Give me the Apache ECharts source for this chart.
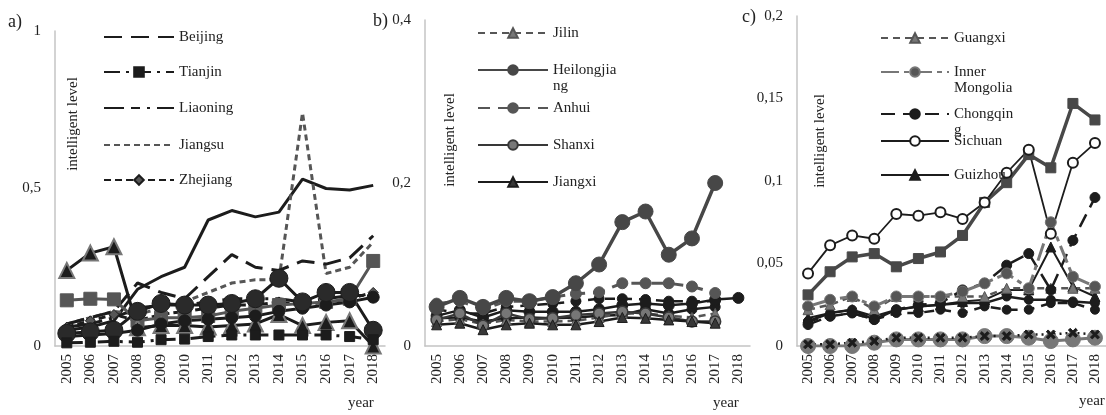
<!DOCTYPE html>
<html><head><meta charset="utf-8">
<script src="https://cdn.jsdelivr.net/npm/echarts@6/dist/echarts.min.js"></script>
<style>html,body{margin:0;padding:0;background:#fff}#c{width:1106px;height:415px}</style>
</head><body><div id="c"></div>
<script>
const years = ['2005','2006','2007','2008','2009','2010','2011','2012','2013','2014','2015','2016','2017','2018'];

// panel a) eastern provinces
const beijing   = [0.07,0.09,0.11,0.20,0.17,0.15,0.22,0.29,0.25,0.24,0.27,0.26,0.28,0.35];
const tianjin   = [0.010,0.012,0.015,0.012,0.020,0.022,0.030,0.035,0.035,0.035,0.035,0.035,0.030,0.020];
const liaoning  = [0.06,0.07,0.09,0.12,0.13,0.13,0.14,0.15,0.15,0.15,0.14,0.15,0.16,0.16];
const jiangsu   = [0.07,0.09,0.11,0.10,0.12,0.14,0.17,0.20,0.21,0.21,0.74,0.23,0.25,0.33];
const zhejiang  = [0.06,0.08,0.10,0.08,0.10,0.11,0.12,0.13,0.13,0.14,0.13,0.14,0.15,0.17];
const shanghai  = [0.05,0.06,0.08,0.18,0.22,0.25,0.40,0.43,0.41,0.425,0.53,0.50,0.495,0.51];
const hebei     = [0.24,0.295,0.315,0.058,0.065,0.065,0.06,0.065,0.07,0.10,0.065,0.075,0.08,0.0];
const guangdong = [0.145,0.15,0.148,0.08,0.09,0.09,0.095,0.11,0.12,0.13,0.135,0.14,0.15,0.27];
const shandong  = [0.04,0.045,0.05,0.11,0.135,0.13,0.13,0.135,0.15,0.215,0.14,0.17,0.17,0.05];
const fujian    = [0.03,0.035,0.04,0.05,0.07,0.08,0.085,0.09,0.095,0.11,0.12,0.13,0.14,0.155];

// panel b) central provinces
const jilin        = [0.030,0.033,0.027,0.032,0.030,0.030,0.031,0.035,0.040,0.040,0.037,0.035,0.040,null];
const heilongjiang = [0.048,0.059,0.048,0.059,0.055,0.060,0.077,0.100,0.152,0.165,0.112,0.132,0.200,null];
const anhui        = [0.052,0.055,0.045,0.055,0.055,0.060,0.064,0.066,0.077,0.077,0.077,0.073,0.065,null];
const shanxi       = [0.032,0.040,0.025,0.040,0.033,0.034,0.038,0.040,0.042,0.040,0.035,0.030,0.030,null];
const jiangxi      = [0.026,0.028,0.020,0.026,0.028,0.026,0.026,0.030,0.035,0.034,0.032,0.030,0.028,null];
const henan        = [0.045,0.040,0.040,0.048,0.050,0.052,0.055,0.058,0.058,0.057,0.055,0.055,0.055,null];
const hubei        = [0.037,0.044,0.035,0.044,0.042,0.042,0.042,0.045,0.050,0.052,0.050,0.052,0.057,0.059];
const hunan        = [0.034,0.035,0.030,0.034,0.035,0.034,0.035,0.037,0.038,0.045,0.040,0.045,0.048,null];

// panel c) western provinces
const guangxi   = [0.022,0.025,0.030,0.022,0.030,0.030,0.030,0.030,0.030,0.035,0.035,0.035,0.035,0.035];
const innerMong = [0.024,0.028,0.030,0.024,0.030,0.030,0.030,0.033,0.038,0.044,0.035,0.075,0.042,0.036];
const chongqing = [0.013,0.018,0.020,0.016,0.022,0.025,0.026,0.034,0.038,0.049,0.056,0.034,0.064,0.090];
const sichuan   = [0.044,0.061,0.067,0.065,0.080,0.079,0.081,0.077,0.087,0.105,0.119,0.068,0.111,0.123];
const guizhou   = [0.017,0.020,0.022,0.018,0.022,0.024,0.025,0.027,0.028,0.034,0.034,0.060,0.036,0.030];
const shaanxi   = [0.031,0.045,0.054,0.056,0.048,0.053,0.057,0.067,0.087,0.099,0.116,0.108,0.147,0.137];
const yunnan    = [0.015,0.018,0.020,0.016,0.020,0.020,0.022,0.020,0.024,0.022,0.022,0.026,0.026,0.022];
const gansu     = [0.015,0.020,0.022,0.016,0.022,0.024,0.025,0.026,0.026,0.030,0.028,0.028,0.027,0.026];
const tibet     = [0.000,0.000,0.000,0.002,0.004,0.004,0.004,0.004,0.006,0.006,0.005,0.003,0.004,0.005];
const qinghai   = [0.001,0.001,0.002,0.003,0.005,0.005,0.005,0.005,0.006,0.006,0.007,0.007,0.008,0.007];

const FONT = '"Liberation Serif","DejaVu Serif",serif';
const K = '#1c1c1c', D = '#383838', G = '#565656', L = '#777777';
const XSYM = 'path://M2,0L5,3L8,0L10,2L7,5L10,8L8,10L5,7L2,10L0,8L3,5L0,2Z';

function S(name, data, g, o) {
  return {
    name, type: 'line', data, xAxisIndex: g, yAxisIndex: g,
    symbol: o.symbol || 'none', symbolSize: o.size || 8, showSymbol: !!o.symbol,
    lineStyle: {color: o.color, width: o.width || 2.5, type: o.type || 'solid'},
    itemStyle: {color: o.fill || o.color, borderColor: o.border || o.color, borderWidth: o.bw || 1},
    animation: false, silent: true, z: o.z || 2
  };
}
function xa(g) {
  return {type: 'category', gridIndex: g, data: years, boundaryGap: true,
    axisLine: {lineStyle: {color: '#c4c4c4', width: 1.5}}, axisTick: {show: false},
    axisLabel: {rotate: 90, interval: 0, fontFamily: FONT, fontSize: 15, color: '#222', margin: 8}};
}
function ya(g, max, interval) {
  return {type: 'value', gridIndex: g, min: 0, max, interval,
    axisLine: {show: true, lineStyle: {color: '#c4c4c4', width: 1.5}}, axisTick: {show: false},
    splitLine: {show: false},
    axisLabel: {fontFamily: FONT, fontSize: 15, color: '#222', margin: 14,
      formatter: v => String(+v.toFixed(4)).replace('.', ',')}};
}
const NOSYM = {opacity: 0, color: 'rgba(0,0,0,0)', borderColor: 'rgba(0,0,0,0)', borderWidth: 0};
function lg(name, left, yc, w, label, hideSym) {
  const multi = !!label;
  const item = hideSym ? {name, itemStyle: NOSYM} : {name};
  return {data: [item], left, top: yc - (multi ? 24 : 8), orient: 'vertical', itemWidth: w, itemHeight: 12,
    padding: 0, selectedMode: false,
    textStyle: {fontFamily: FONT, fontSize: 15, color: '#222', lineHeight: 16},
    formatter: multi ? (() => label) : (n => n)};
}
function T(text, x, y, o) {
  return Object.assign({type: 'text', x, y, silent: true,
    style: {text, fontFamily: FONT, fontSize: (o && o.size) || 15, fill: '#222',
      align: (o && o.align) || 'left', verticalAlign: 'middle'}}, o && o.rot ? {rotation: o.rot} : {});
}

const series = [
  // a)
  S('Shanghai', shanghai, 0, {color: K, width: 3}),
  S('Jiangsu', jiangsu, 0, {color: G, width: 3, type: [6, 4]}),
  S('Beijing', beijing, 0, {color: K, width: 3, type: [18, 9]}),
  S('Liaoning', liaoning, 0, {color: K, width: 3, type: [20, 7, 9, 7, 3, 7]}),
  S('Zhejiang', zhejiang, 0, {color: K, width: 3, type: [7, 4], symbol: 'diamond', size: 10, fill: G}),
  S('Guangdong', guangdong, 0, {color: G, width: 3, symbol: 'rect', size: 13}),
  S('Hebei', hebei, 0, {color: K, width: 3, symbol: 'triangle', size: 15, fill: K, border: L, bw: 2}),
  S('Fujian', fujian, 0, {color: K, width: 3, symbol: 'circle', size: 12}),
  S('Shandong', shandong, 0, {color: K, width: 3, symbol: 'circle', size: 18, fill: '#2a2a2a'}),
  S('Tianjin', tianjin, 0, {color: K, width: 3, type: [16, 6, 3, 6], symbol: 'rect', size: 10}),
  // b)
  S('Hunan', hunan, 1, {color: K, width: 2.5, symbol: 'circle', size: 10}),
  S('Henan', henan, 1, {color: K, width: 2.5, type: [10, 7], symbol: 'circle', size: 10}),
  S('Hubei', hubei, 1, {color: K, width: 2.5, symbol: 'circle', size: 11}),
  S('Anhui', anhui, 1, {color: G, width: 3, type: [12, 8], symbol: 'circle', size: 11, fill: G}),
  S('Jilin', jilin, 1, {color: G, width: 2.5, type: [7, 5], symbol: 'triangle', size: 10, fill: L}),
  S('Shanxi', shanxi, 1, {color: D, width: 2.5, symbol: 'circle', size: 11, fill: L, border: D, bw: 1.5}),
  S('Jiangxi', jiangxi, 1, {color: K, width: 2.5, symbol: 'triangle', size: 10, fill: D}),
  S('Heilongjiang', heilongjiang, 1, {color: '#474747', width: 3.5, symbol: 'circle', size: 15, fill: '#474747'}),
  // c)
  S('Gansu', gansu, 2, {color: K, width: 2.5, symbol: 'circle', size: 9}),
  S('Yunnan', yunnan, 2, {color: K, width: 2.5, type: [10, 7], symbol: 'circle', size: 9}),
  S('Guizhou', guizhou, 2, {color: K, width: 2, symbol: 'triangle', size: 10}),
  S('Guangxi', guangxi, 2, {color: G, width: 2.5, type: [7, 5], symbol: 'triangle', size: 10, fill: L}),
  S('Chongqing', chongqing, 2, {color: K, width: 2.5, type: [14, 8], symbol: 'circle', size: 10}),
  S('Inner Mongolia', innerMong, 2, {color: L, width: 3, type: [18, 5, 5, 5], symbol: 'circle', size: 11, fill: G}),
  S('Shaanxi', shaanxi, 2, {color: '#484848', width: 3.5, symbol: 'rect', size: 10}),
  S('Sichuan', sichuan, 2, {color: K, width: 1.8, symbol: 'emptyCircle', size: 10, bw: 1.5}),
  S('Tibet', tibet, 2, {color: L, width: 3, symbol: 'circle', size: 15, fill: L}),
  S('Qinghai', qinghai, 2, {color: K, width: 2.5, type: [2, 4], symbol: XSYM, size: 9})
];

const chart = echarts.init(document.getElementById('c'));
chart.setOption({
  animation: false,
  backgroundColor: '#fff',
  grid: [
    {left: 55, top: 31, width: 330, height: 315},
    {left: 425, top: 20, width: 325, height: 326},
    {left: 797, top: 16, width: 318, height: 330}
  ],
  xAxis: [xa(0), xa(1), xa(2)],
  yAxis: [ya(0, 1, 0.5), ya(1, 0.4, 0.2), ya(2, 0.2, 0.05)],
  legend: [
    lg('Beijing', 103, 37, 70, null, true), lg('Tianjin', 103, 72, 70), lg('Liaoning', 103, 108, 70, null, true),
    lg('Jiangsu', 103, 145, 70, null, true), lg('Zhejiang', 103, 180, 70),
    lg('Jilin', 477, 33, 70), lg('Heilongjiang', 477, 70, 70, ' \nHeilongjia\nng'), lg('Anhui', 477, 108, 70),
    lg('Shanxi', 477, 145, 70), lg('Jiangxi', 477, 182, 70),
    lg('Guangxi', 880, 38, 68), lg('Inner Mongolia', 880, 72, 68, ' \nInner\nMongolia'),
    lg('Chongqing', 880, 114, 68, ' \nChongqin\ng'), lg('Sichuan', 880, 141, 68), lg('Guizhou', 880, 175, 68)
  ],
  graphic: [
    T('a)', 8, 22, {size: 18}), T('b)', 373, 21, {size: 18}), T('c)', 742, 17, {size: 18}),
    T('intelligent level', 73, 124, {align: 'center', rot: Math.PI / 2}),
    T('intelligent level', 450, 140, {align: 'center', rot: Math.PI / 2}),
    T('intelligent level', 820, 141, {align: 'center', rot: Math.PI / 2}),
    T('year', 348, 403), T('year', 713, 403), T('year', 1079, 401)
  ],
  series
});
</script></body></html>
